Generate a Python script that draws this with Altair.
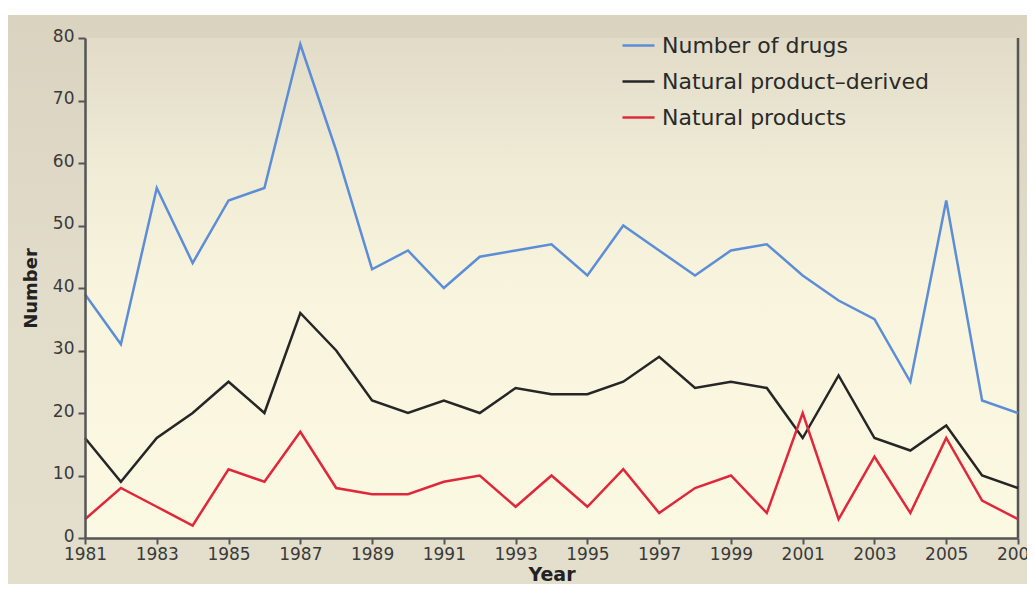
import altair as alt
import pandas as pd

years = list(range(1981, 2008))
number_of_drugs = [39, 31, 56, 44, 54, 56, 79, 62, 43, 46, 40, 45, 46, 47, 42, 50, 46, 42, 46, 47, 42, 38, 35, 25, 54, 22, 20]
np_derived = [16, 9, 16, 20, 25, 20, 36, 30, 22, 20, 22, 20, 24, 23, 23, 25, 29, 24, 25, 24, 16, 26, 16, 14, 18, 10, 8]
natural_products = [3, 8, 5, 2, 11, 9, 17, 8, 7, 7, 9, 10, 5, 10, 5, 11, 4, 8, 10, 4, 20, 3, 13, 4, 16, 6, 3]

series_names = ["Number of drugs", "Natural product\u2013derived", "Natural products"]
series_colors = ["#5c8ed7", "#262626", "#e0283c"]
x_ticks = list(range(1981, 2008, 2))
y_ticks = list(range(0, 81, 10))

rows = []
for name, vals in zip(series_names, [number_of_drugs, np_derived, natural_products]):
    for yr, v in zip(years, vals):
        rows.append({"Year": yr, "Number": v, "Series": name})
df = pd.DataFrame(rows)

W, H = 933, 500
PL, PT, PR, PB = 77, 30, 9, 46
font = "DejaVu Sans"

outer_bg = alt.Chart(pd.DataFrame({"a": [0]})).mark_rect(
    color=alt.LinearGradient(
        gradient="linear", x1=0, x2=0, y1=0, y2=1,
        stops=[alt.GradientStop(color="#d9d3c0", offset=0),
               alt.GradientStop(color="#e2ddca", offset=0.5),
               alt.GradientStop(color="#e3dfcc", offset=1)]),
).encode(x=alt.value(-PL), x2=alt.value(W + PR), y=alt.value(-(PT - 7)), y2=alt.value(H + PB))

plot_bg = alt.Chart(pd.DataFrame({"a": [0]})).mark_rect(
    color=alt.LinearGradient(
        gradient="linear", x1=0, x2=0, y1=0, y2=1,
        stops=[alt.GradientStop(color="#e1dbc8", offset=0),
               alt.GradientStop(color="#efebd5", offset=0.25),
               alt.GradientStop(color="#f8f4dd", offset=0.5),
               alt.GradientStop(color="#fcf9e2", offset=1)]),
).encode(x=alt.value(0), x2=alt.value(W), y=alt.value(0), y2=alt.value(H))

right_line = alt.Chart(pd.DataFrame({"a": [0]})).mark_rule(
    color="#555555", strokeWidth=2.5
).encode(x=alt.value(W), y=alt.value(0), y2=alt.value(H))

lines = alt.Chart(df).mark_line(strokeWidth=2.5).encode(
    x=alt.X("Year:Q",
            scale=alt.Scale(domain=[1981, 2007], nice=False, zero=False),
            axis=alt.Axis(values=x_ticks, format="d", title="Year", grid=False,
                          zindex=1, domainColor="#555555", domainWidth=2.5,
                          tickColor="#555555", tickWidth=2, tickSize=6,
                          labelFont=font, labelFontSize=17, labelColor="#3a3a3a",
                          labelPadding=2, titleFont=font, titleFontSize=19,
                          titleFontWeight="bold", titleColor="#222222", titlePadding=3,
                          labelOverlap=False, labelFlush=False)),
    y=alt.Y("Number:Q",
            scale=alt.Scale(domain=[0, 80], nice=False),
            axis=alt.Axis(values=y_ticks, title="Number", grid=False,
                          zindex=1, domainColor="#555555", domainWidth=2.5,
                          tickColor="#555555", tickWidth=2, tickSize=7,
                          labelFont=font, labelFontSize=17, labelColor="#3a3a3a",
                          labelPadding=4, labelOffset=-2,
                          titleFont=font, titleFontSize=18,
                          titleFontWeight="bold", titleColor="#222222", titlePadding=12)),
    color=alt.Color("Series:N",
                    scale=alt.Scale(domain=series_names, range=series_colors),
                    sort=series_names,
                    legend=alt.Legend(title=None, orient="none", legendX=536, legendY=-10,
                                      symbolType="stroke", symbolSize=1024,
                                      symbolStrokeWidth=2.5, labelFont=font,
                                      labelFontSize=22, labelColor="#2a2a2a",
                                      labelLimit=400, rowPadding=7, padding=0,
                                      labelOffset=6)),
)

chart = alt.layer(outer_bg, plot_bg, right_line, lines).properties(
    width=W, height=H,
    padding={"left": PL, "top": PT, "right": PR, "bottom": PB},
    autosize=alt.AutoSizeParams(type="none"),
).configure(background="#ffffff").configure_view(stroke=None)

chart.save("out.html", embed_options={"renderer": "svg", "actions": False})
